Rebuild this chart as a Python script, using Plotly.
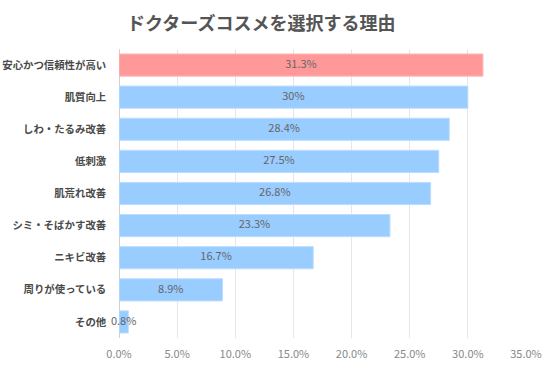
import plotly.graph_objects as go

categories = ["安心かつ信頼性が高い", "肌質向上", "しわ・たるみ改善", "低刺激", "肌荒れ改善",
              "シミ・そばかす改善", "ニキビ改善", "周りが使っている", "その他"]
values = [31.3, 30, 28.4, 27.5, 26.8, 23.3, 16.7, 8.9, 0.8]
labels = ["31.3%", "30%", "28.4%", "27.5%", "26.8%", "23.3%", "16.7%", "8.9%", "0.8%"]
bar_colors = ["#FF9999"] + ["#99CCFF"] * 8
line_colors = ["#FFB8B8"] + ["#BBDDFF"] * 8
tick_vals = [0, 5, 10, 15, 20, 25, 30, 35]
tick_text = ["0.0%", "5.0%", "10.0%", "15.0%", "20.0%", "25.0%", "30.0%", "35.0%"]

font = "Noto Sans CJK JP"

fig = go.Figure()
fig.add_trace(go.Bar(
    y=categories, x=values, orientation="h",
    marker=dict(color=bar_colors, line=dict(color=line_colors, width=1)),
    hoverinfo="skip",
))
fig.add_trace(go.Scatter(
    y=categories, x=[v / 2 for v in values], mode="text", text=labels,
    textfont=dict(family=font, size=11, color="#666666"),
    textposition="middle center", hoverinfo="skip", cliponaxis=False,
))
fig.update_layout(
    width=550, height=366,
    margin=dict(l=119, r=24, t=49, b=28),
    paper_bgcolor="white", plot_bgcolor="white",
    showlegend=False, bargap=0.31,
    title=dict(text="<b>ドクターズコスメを選択する理由</b>", x=0.475, xanchor="center",
               y=0.935, yanchor="middle",
               font=dict(family=font, size=18, color="#555555")),
    xaxis=dict(range=[0, 35], tickvals=tick_vals, ticktext=tick_text, automargin=False,
               ticks="outside", ticklen=6, tickcolor="rgba(0,0,0,0)",
               showgrid=True, gridcolor="#E6E6E6", gridwidth=1, zeroline=True,
               zerolinecolor="#D0D0D0", zerolinewidth=1,
               tickfont=dict(family=font, size=11, color="#888888"), fixedrange=True),
    yaxis=dict(autorange="reversed", showgrid=False, ticksuffix="  ", automargin=False,
               ticks="outside", ticklen=5, tickcolor="rgba(0,0,0,0)",
               tickfont=dict(family=font, size=10.4, color="#4A4A4A", weight="bold"),
               fixedrange=True),
)
fig.write_html("out.html", config={"displayModeBar": False},
               post_script="document.body.style.margin='0';")
